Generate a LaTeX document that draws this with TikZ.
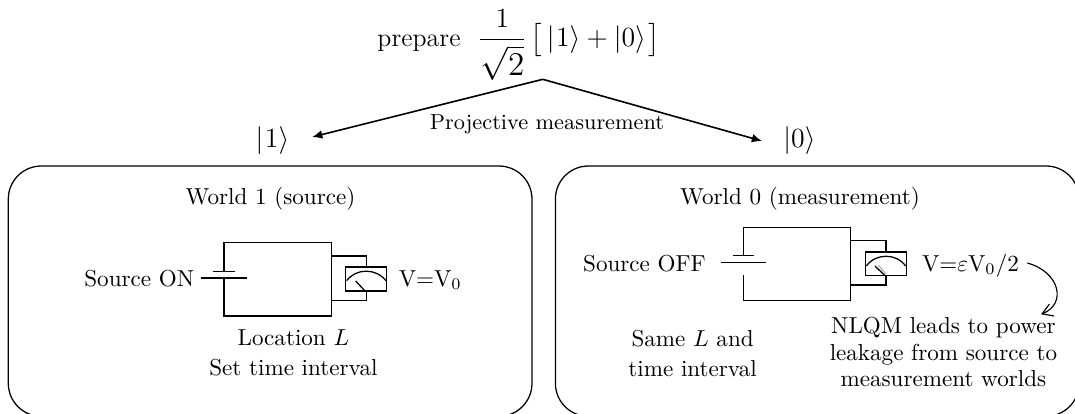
\documentclass[tikz,border=0pt]{standalone}
\usepackage{amsmath}
\usetikzlibrary{arrows.meta,calc}
\tikzset{
  worldbox/.style={draw,line width=0.55pt,rounded corners=14.3pt,inner sep=0pt,outer sep=0pt,anchor=north west,minimum width=226.75pt,minimum height=108.4pt},
  wire/.style={line width=0.55pt},
  branch/.style={line width=0.7pt,-{Latex[length=4.4pt,width=3.8pt]}},
  curvearrow/.style={line width=0.5pt,-{Straight Barb[length=4.5pt,width=5.5pt]}},
  meter/.style={draw,line width=0.55pt,inner sep=0pt,outer sep=0pt,anchor=north west,fill=white},
  lbl/.style={inner sep=0pt,anchor=base},
  lblw/.style={inner sep=0pt,anchor=base west},
  bigmath/.style={font=\fontsize{12}{14}\selectfont},
  ket/.style={bigmath,inner ysep=0pt}
}
\begin{document}
\begin{tikzpicture}[x=0.433pt,y=-0.433pt]
\clip (0,0) rectangle (1075,413);
% top
\node[lblw,font=\fontsize{11.2}{13}\selectfont] (prep) at (377,46.7) {prepare};
\node[lblw,bigmath] (state) at (477.2,46.7) {$\displaystyle\frac{1}{\rule{0pt}{14pt}\mbox{\fontsize{13.5}{16}\selectfont$\sqrt{2}$}}\hspace{1.5pt}\bigl[\,|\hspace{0.7pt}1\rangle+|0\rangle\hspace{1.2pt}\bigr]$};
\coordinate (apex) at (542.7,79.3);
\node[ket,inner xsep=9.7pt] (ket1) at (272.5,141) {$|\hspace{0.7pt}1\rangle$};
\node[ket,inner xsep=9.1pt] (ket0) at (799.5,141) {$|0\rangle$};
\draw[branch] (apex) -- ($(ket1.east)+(0,-4)$);
\draw[branch] (apex) -- (ket0.west);
\node[lbl,font=\fontsize{9.4}{11}\selectfont] (proj) at (547,129.3) {Projective measurement};
% world boxes
\node[worldbox] (w1) at (8.3,166) {};
\node[worldbox] (w0) at (555.4,166) {};
\node[lbl] (w1t) at (270.5,204.2) {World 1 (source)};
\node[lbl] (w0t) at (800,204.2) {World 0 (measurement)};
% circuit 1
\draw[wire] (213.3,271.3) -- (235,271.3);
\draw[wire] (201,278) -- (247,278);
\draw[wire] (224,271.3) -- (224,242.7) -- (331.7,242.7) -- (331.7,316) -- (224,316) -- (224,278);
\draw[wire] (331.7,256) -- (366.7,256) -- (366.7,300.3) -- (331.7,300.3);
\node[meter,minimum width=17.75pt,minimum height=10.4pt] (m1) at (345.7,267) {};
\draw[wire] (346.7,280.7) .. controls (356,268) and (376,268) .. (386,280.7);
\draw[wire] (355.7,281) -- (365,291);
\node[lbl,anchor=base east] (s1) at (194.6,286) {Source ON};
\node[lblw] (v1) at (398.4,286) {V=V$_0$};
\node[lbl] (l1) at (293.4,345.8) {Location $L$};
\node[lbl] (t1) at (293.4,375.8) {Set time interval};
% circuit 0
\draw[wire] (732.7,255.7) -- (754,255.7);
\draw[wire] (720.7,262.7) -- (766.3,262.7);
\draw[wire] (743.3,255.7) -- (743.3,227.3) -- (850.7,227.3) -- (850.7,300.3) -- (743.3,300.3) -- (743.3,275);
\draw[wire] (850.7,240.7) -- (886,240.7) -- (886,285) -- (850.7,285);
\node[meter,minimum width=17.6pt,minimum height=10.25pt] (m0) at (865.7,252) {};
\draw[wire] (866.3,266) .. controls (876,253) and (896,253) .. (905.7,266);
\draw[line width=0.45pt,gray!70] (878.3,265) -- (886,274.3);
\draw[wire] (875,266) -- (885,275.7);
\node[lblw] (s0) at (582.7,271) {Source OFF};
\node[lblw] (v0) at (921.6,271) {V=$\varepsilon$V$_0$/2};
\node[lbl] (l0a) at (692.6,346) {Same $L$ and};
\node[lbl] (l0b) at (692.6,376) {time interval};
\node[lbl] (n1) at (943.4,333.3) {NLQM leads to power};
\node[lbl] (n2) at (943.4,360) {leakage from source to};
\node[lbl] (n3) at (943.4,386.7) {measurement worlds};
\coordinate (bstart) at (1027.3,263);
\coordinate (bend1) at (1041,314.3);
\draw[curvearrow] (bstart) .. controls (1060,272) and (1067,304) .. (bend1);
\end{tikzpicture}
\end{document}
